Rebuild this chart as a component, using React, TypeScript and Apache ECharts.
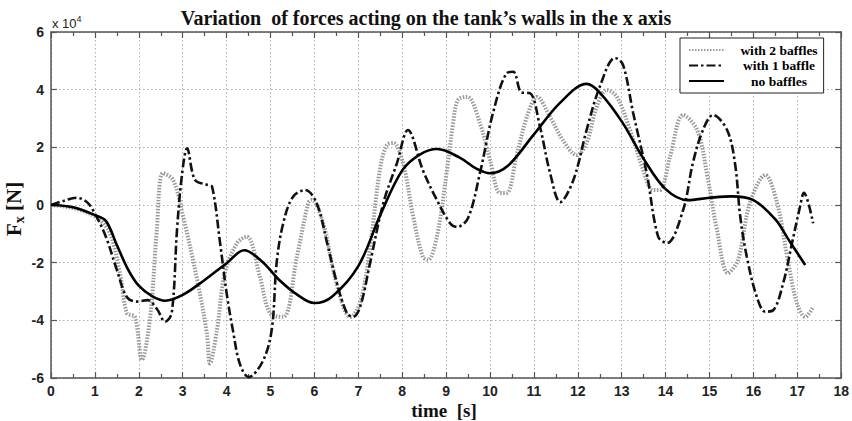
import React, { useEffect, useRef } from "react";
import * as echarts from "echarts";

const xTicks = [0, 18, 1];
const yTicks = [-6, 6, 2];

const seriesNames = ["with 2 baffles", "with 1 baffle", "no baffles"];

const twoBafflesT = [0, 0.3, 0.66, 1.05, 1.34, 1.57, 1.73, 1.91, 2.07, 2.26, 2.41, 2.55, 2.78, 3.01, 3.33, 3.55, 3.62, 3.78, 3.96, 4.24, 4.46, 4.76, 4.99, 5.29, 5.6, 5.86, 5.94, 6.2, 6.43, 6.66, 6.81, 7.04, 7.27, 7.49, 7.65, 7.8, 8.02, 8.25, 8.47, 8.59, 8.79, 9.02, 9.16, 9.27, 9.48, 9.77, 10.0, 10.23, 10.38, 10.6, 10.84, 11.07, 11.37, 11.66, 11.98, 12.2, 12.43, 12.66, 12.89, 13.19, 13.49, 13.71, 13.87, 14.1, 14.4, 14.72, 14.94, 15.17, 15.42, 15.65, 15.92, 16.27, 16.54, 16.77, 16.99, 17.18, 17.36];
const twoBafflesV = [0, -0.05, -0.17, -0.45, -0.97, -2.36, -3.75, -3.88, -5.37, -3.88, -0.87, 1.1, 0.87, -0.4, -2.6, -4.45, -5.5, -4.34, -2.36, -1.32, -1.1, -2.5, -3.75, -3.88, -1.8, 0.07, 0.17, -0.63, -2.25, -3.54, -3.88, -3.4, -1.46, 1.21, 2.08, 2.15, 1.45, -0.4, -1.8, -1.9, -1.1, 1.21, 2.84, 3.64, 3.75, 2.84, 1.56, 0.42, 0.42, 1.67, 3.05, 3.75, 3.05, 2.25, 1.73, 2.15, 3.4, 3.99, 3.75, 2.6, 1.21, 0.52, 0.52, 1.67, 3.12, 2.6, 1.1, -0.87, -2.36, -1.9, 0.07, 1.04, 0.07, -1.8, -3.4, -3.88, -3.54];

const oneBaffleT = [0, 0.3, 0.58, 0.82, 1.0, 1.25, 1.5, 1.73, 1.96, 2.2, 2.41, 2.6, 2.75, 2.87, 2.98, 3.1, 3.28, 3.55, 3.67, 3.85, 4.0, 4.15, 4.3, 4.5, 4.83, 5.03, 5.14, 5.29, 5.51, 5.79, 6.05, 6.29, 6.51, 6.74, 6.88, 7.04, 7.27, 7.57, 7.88, 8.13, 8.47, 8.79, 9.09, 9.25, 9.5, 9.77, 10.07, 10.38, 10.53, 10.72, 10.91, 11.14, 11.37, 11.6, 11.9, 12.2, 12.5, 12.85, 13.03, 13.26, 13.57, 13.83, 14.03, 14.4, 14.62, 14.85, 15.08, 15.4, 15.58, 15.7, 15.85, 16.08, 16.27, 16.45, 16.68, 16.88, 17.06, 17.15, 17.36];
const oneBaffleV = [0, 0.15, 0.25, 0.1, -0.3, -1.1, -2.25, -3.2, -3.35, -3.3, -3.6, -4.05, -3.75, -0.87, 1.0, 1.97, 0.87, 0.7, 0.63, -1.3, -3.05, -4.4, -5.5, -5.97, -5.4, -4.3, -2.0, -0.63, 0.28, 0.52, 0.07, -1.32, -2.7, -3.75, -3.88, -3.54, -2.0, 0.07, 1.45, 2.6, 1.21, 0.17, -0.63, -0.76, -0.45, 1.1, 3.2, 4.57, 4.62, 3.9, 3.88, 2.7, 1.1, 0.1, 0.87, 2.6, 4.1, 5.1, 4.86, 3.2, 1.1, -1.1, -1.32, -0.17, 1.45, 2.6, 3.12, 2.6, 1.45, -0.4, -1.8, -3.2, -3.7, -3.65, -2.7, -1.32, -0.07, 0.42, -0.63];

const noBafflesT = [0, 0.5, 1, 1.25, 1.5, 1.75, 2, 2.3, 2.6, 3, 3.5, 4, 4.4, 4.8, 5.2, 5.6, 6, 6.4, 7, 7.5, 8, 8.4, 8.8, 9.3, 9.7, 10, 10.4, 11, 11.6, 12.2, 12.5, 13, 13.5, 14, 14.5, 15, 15.5, 16, 16.5, 16.8, 17.18];
const noBafflesV = [0, -0.08, -0.35, -0.55, -1.39, -2.22, -2.8, -3.16, -3.32, -3.12, -2.6, -2.02, -1.57, -1.95, -2.6, -3.1, -3.4, -3.18, -2.12, -0.35, 1.2, 1.75, 1.94, 1.65, 1.25, 1.1, 1.35, 2.45, 3.55, 4.2, 3.9, 2.9, 1.6, 0.55, 0.17, 0.25, 0.3, 0.17, -0.5, -1.2, -2.08];

const zip = (t: number[], v: number[]) => t.map((x, i) => [x, v[i]]);

const serif = "'Liberation Serif', 'DejaVu Serif', serif";
const sans = "'Liberation Sans', Arial, sans-serif";

export default function App() {
  const ref = useRef<HTMLDivElement>(null);
  useEffect(() => {
    if (!ref.current) return;
    const chart = echarts.init(ref.current, undefined, { renderer: "svg" });
    const axisLine = { show: true, onZero: false, lineStyle: { color: "#555", width: 1.5 } };
    const tick = { show: true, inside: true, length: 6, lineStyle: { color: "#555", width: 1.2 } };
    const minor = { show: true, splitNumber: 2, length: 4, lineStyle: { color: "#555", width: 1.2 } };
    const split = { show: true, lineStyle: { color: "#b0b0b0", type: [1.5, 2.5], width: 1 } };
    const label = { color: "#222", fontFamily: sans, fontWeight: "bold" as const, fontSize: 14 };
    chart.setOption({
      animation: false,
      backgroundColor: "#fff",
      grid: { left: 51, right: 9, top: 32, bottom: 43, containLabel: false },
      xAxis: [
        {
          type: "value", min: xTicks[0], max: xTicks[1], interval: xTicks[2],
          axisLine, axisTick: tick, minorTick: minor, splitLine: split,
          axisLabel: { ...label, margin: 6 },
        },
        {
          type: "value", position: "top", min: xTicks[0], max: xTicks[1], interval: xTicks[2],
          axisLine, axisTick: tick, minorTick: minor, splitLine: { show: false },
          axisLabel: { show: false },
        },
      ],
      yAxis: [
        {
          type: "value", min: yTicks[0], max: yTicks[1], interval: yTicks[2],
          axisLine, axisTick: tick, splitLine: split,
          axisLabel: { ...label, margin: 7 },
        },
        {
          type: "value", position: "right", min: yTicks[0], max: yTicks[1], interval: yTicks[2],
          axisLine, axisTick: tick, splitLine: { show: false },
          axisLabel: { show: false },
        },
      ],
      legend: {
        orient: "vertical",
        left: 680,
        top: 38,
        padding: [5, 6, 5, 8],
        itemGap: 1.5,
        itemWidth: 35,
        itemHeight: 14,
        backgroundColor: "#fff",
        borderColor: "#222",
        borderWidth: 1,
        borderRadius: 0,
        data: seriesNames,
        itemStyle: { opacity: 0 },
        formatter: (n: string) => `{c|${n}}`,
        textStyle: {
          color: "#000",
          rich: {
            c: { width: 100, align: "center", fontFamily: serif, fontWeight: "bold", fontSize: 13.5, color: "#000" },
          },
        },
      },
      graphic: [
        {
          type: "text", left: "center", top: 8,
          style: {
            text: "Variation  of forces acting on the tank\u2019s walls in the x axis",
            fontFamily: serif, fontWeight: "bold", fontSize: 20, fill: "#111",
          },
        },
        {
          type: "text", x: 52, y: 14,
          style: {
            text: "{a|x 10}{b|4}",
            rich: {
              a: { fontFamily: sans, fontSize: 13, fill: "#222", lineHeight: 16, verticalAlign: "bottom" },
              b: { fontFamily: sans, fontSize: 9, fill: "#222", lineHeight: 9, verticalAlign: "top" },
            },
          },
        },
        {
          type: "text", x: 14, y: 209, rotation: Math.PI / 2,
          style: {
            text: "{a|F}{b|x}{a| [N]}",
            align: "center", verticalAlign: "middle",
            rich: {
              a: { fontFamily: serif, fontWeight: "bold", fontSize: 21, fill: "#111", lineHeight: 24 },
              b: { fontFamily: serif, fontWeight: "bold", fontSize: 14, fill: "#111", lineHeight: 14, verticalAlign: "bottom" },
            },
          },
        },
        {
          type: "text", x: 444, y: 410,
          style: {
            text: "time  [s]", align: "center", verticalAlign: "middle",
            fontFamily: serif, fontWeight: "bold", fontSize: 19, fill: "#111",
          },
        },
      ],
      series: [
        {
          name: seriesNames[0], type: "line", smooth: 0.35, symbol: "none", showSymbol: false,
          data: zip(twoBafflesT, twoBafflesV),
          lineStyle: { color: "#999", width: 4, type: [1.5, 1.5], cap: "butt" },
          itemStyle: { color: "#999" },
          z: 2,
        },
        {
          name: seriesNames[1], type: "line", smooth: 0.35, symbol: "none", showSymbol: false,
          data: zip(oneBaffleT, oneBaffleV),
          lineStyle: { color: "#111", width: 2.6, type: [9, 3, 2.5, 3] },
          itemStyle: { color: "#111" },
          z: 3,
        },
        {
          name: seriesNames[2], type: "line", smooth: 0.35, symbol: "none", showSymbol: false,
          data: zip(noBafflesT, noBafflesV),
          lineStyle: { color: "#000", width: 2.6 },
          itemStyle: { color: "#000" },
          z: 4,
        },
      ],
    });
    return () => chart.dispose();
  }, []);
  return <div ref={ref} style={{ width: 852, height: 421, position: "absolute", left: 0, top: 0 }} />;
}
